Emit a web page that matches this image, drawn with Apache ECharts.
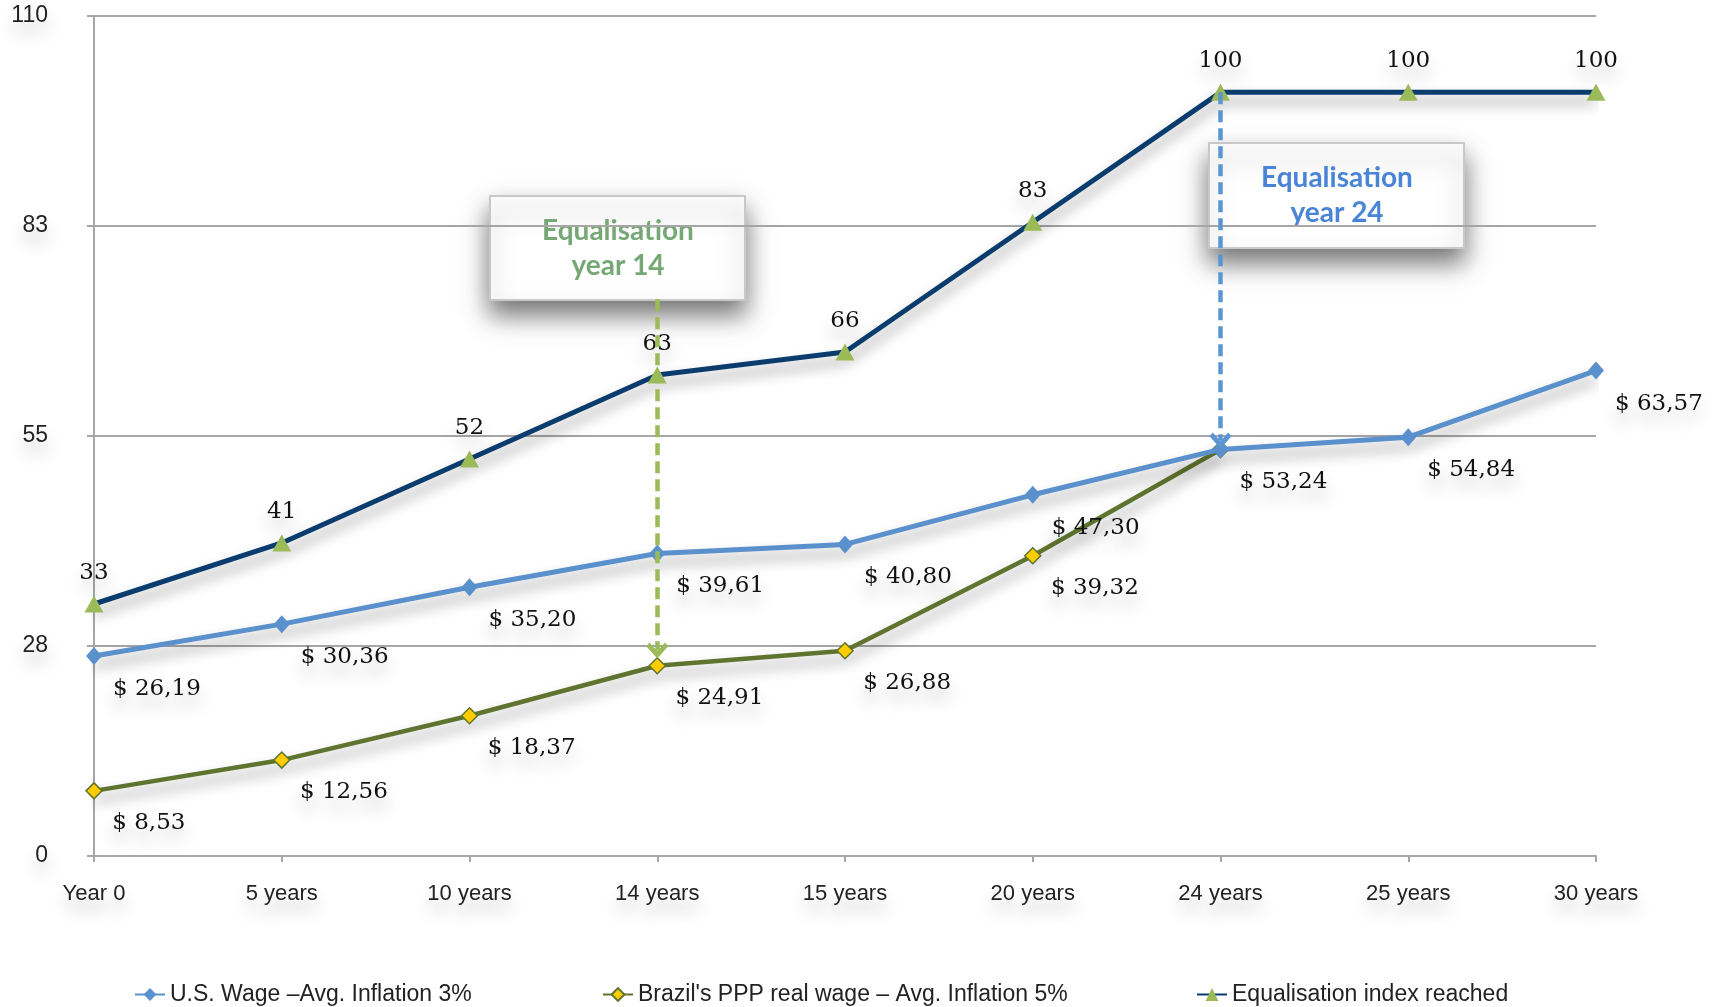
<!DOCTYPE html>
<html>
<head>
<meta charset="utf-8">
<script src="https://cdn.jsdelivr.net/npm/echarts@6/dist/echarts.min.js"></script>
<style>
  html, body { margin: 0; padding: 0; background: #fff; }
  #main { width: 1723px; height: 1007px; }
</style>
</head>
<body>
<div id="main"></div>
<script>
var categories = ['Year 0', '5 years', '10 years', '14 years', '15 years', '20 years', '24 years', '25 years', '30 years'];
var usWage = [26.19, 30.36, 35.20, 39.61, 40.80, 47.30, 53.24, 54.84, 63.57];
var brazilWage = [8.53, 12.56, 18.37, 24.91, 26.88, 39.32, 53.24, '-', '-'];
var equalIndex = [33, 41, 52, 63, 66, 83, 100, 100, 100];

var labelFont = 'DejaVu Serif';
var axisFont = '"Liberation Sans", Arial, sans-serif';
var chevron = 'path://M0,10 L10,0 L20,10 L17,13 L10,6 L3,13 Z';

function money(v) {
  return '$ ' + Number(v).toFixed(2).replace('.', ',');
}

var txtShadow = {
  textShadowColor: 'rgba(0,0,0,0.25)',
  textShadowBlur: 16,
  textShadowOffsetY: 12
};
var lineShadow = {
  shadowColor: 'rgba(0,0,0,0.4)',
  shadowBlur: 14,
  shadowOffsetY: 9
};

var myChart = echarts.init(document.getElementById('main'));

function legendItem(name, left) {
  return {
    data: [name],
    left: left,
    top: 978,
    itemWidth: 30,
    itemHeight: 16,
    itemGap: 0,
    selectedMode: false,
    textStyle: { fontFamily: axisFont, fontSize: 23, color: '#222' }
  };
}

var option = {
  animation: false,
  backgroundColor: '#fff',
  grid: { left: 94, right: 127, top: 16, bottom: 151 },
  legend: [
    legendItem('U.S. Wage –Avg. Inflation 3%', 129),
    legendItem("Brazil's PPP real wage – Avg. Inflation 5%", 597),
    legendItem('Equalisation index reached', 1191)
  ],
  xAxis: {
    type: 'category',
    boundaryGap: false,
    data: categories,
    axisLine: { lineStyle: { color: '#a6a6a6', width: 2 } },
    axisTick: { show: true, length: 6, lineStyle: { color: '#a6a6a6', width: 2 } },
    axisLabel: Object.assign({
      margin: 27,
      fontFamily: axisFont,
      fontSize: 22,
      color: '#222'
    }, txtShadow)
  },
  yAxis: {
    type: 'value',
    min: 0,
    max: 110,
    interval: 27.5,
    axisLine: { show: true, lineStyle: { color: '#a6a6a6', width: 2 } },
    axisTick: { show: true, length: 7, lineStyle: { color: '#a6a6a6', width: 2 } },
    splitLine: { lineStyle: { color: '#a6a6a6', width: 2 } },
    axisLabel: Object.assign({
      margin: 46,
      fontFamily: axisFont,
      fontSize: 23,
      color: '#222',
      formatter: function (v) { return Math.round(v); }
    }, txtShadow)
  },
  series: [
    {
      name: 'U.S. Wage –Avg. Inflation 3%',
      type: 'line',
      z: 3,
      data: usWage,
      symbol: 'diamond',
      symbolSize: [16, 18],
      color: '#5a90cc',
      lineStyle: Object.assign({ width: 5, color: '#5a90cc' }, lineShadow),
      itemStyle: { color: '#5a90cc' },
      label: Object.assign({
        show: true,
        position: [27, 42],
        align: 'left',
        verticalAlign: 'middle',
        fontFamily: labelFont,
        fontSize: 23,
        color: '#111',
        formatter: function (p) { return money(p.value); }
      }, txtShadow)
    },
    {
      name: "Brazil's PPP real wage – Avg. Inflation 5%",
      type: 'line',
      z: 2,
      data: brazilWage,
      symbol: 'diamond',
      symbolSize: [16, 16],
      color: '#5f742f',
      lineStyle: Object.assign({ width: 4.5, color: '#5f742f' }, lineShadow),
      itemStyle: { color: '#ffcc00', borderColor: '#5f742f', borderWidth: 1.5 },
      label: Object.assign({
        show: true,
        position: [27, 41],
        align: 'left',
        verticalAlign: 'middle',
        fontFamily: labelFont,
        fontSize: 23,
        color: '#111',
        formatter: function (p) { return p.dataIndex === 6 ? '' : money(p.value); }
      }, txtShadow),
      markLine: {
        silent: true,
        symbol: ['none', chevron],
        symbolSize: [22, 16],
        label: { show: false },
        lineStyle: { type: [12, 6], width: 4.5, color: '#9bbb59', shadowBlur: 0 },
        data: [
          [{ coord: ['14 years', 72.9] }, { coord: ['14 years', 26.9] }]
        ]
      }
    },
    {
      name: 'Equalisation index reached',
      type: 'line',
      z: 4,
      data: equalIndex,
      symbol: 'triangle',
      symbolSize: [19, 17],
      color: '#0a3d6e',
      lineStyle: Object.assign({ width: 5, color: '#0a3d6e' }, lineShadow),
      itemStyle: { color: '#9bbb59' },
      label: Object.assign({
        show: true,
        position: 'top',
        distance: 11,
        fontFamily: labelFont,
        fontSize: 23,
        color: '#111'
      }, txtShadow),
      markLine: {
        silent: true,
        symbol: ['none', chevron],
        symbolSize: [22, 16],
        label: { show: false },
        lineStyle: { type: [12, 6], width: 4.5, color: '#5b96d2', shadowBlur: 0 },
        data: [
          [{ coord: ['24 years', 100] }, { coord: ['24 years', 54.4] }]
        ]
      }
    }
  ],
  graphic: [
    {
      type: 'group',
      left: 489,
      top: 195,
      z: 100,
      children: [
        {
          type: 'rect',
          shape: { x: 0, y: 0, width: 255, height: 104 },
          style: {
            fill: '#fff', stroke: '#c8c8c8', lineWidth: 2,
            shadowColor: 'rgba(0,0,0,0.55)', shadowBlur: 24, shadowOffsetY: 14
          }
        },
        {
          type: 'text',
          x: 128, y: 52,
          style: {
            text: 'Equalisation\nyear 14',
            align: 'center', verticalAlign: 'middle',
            fontFamily: 'Lato', fontWeight: 'bold', fontSize: 28, lineHeight: 35,
            fill: '#76a875'
          }
        }
      ]
    },
    {
      type: 'group',
      left: 1208,
      top: 142,
      z: 100,
      children: [
        {
          type: 'rect',
          shape: { x: 0, y: 0, width: 255, height: 105 },
          style: {
            fill: '#fff', stroke: '#c8c8c8', lineWidth: 2,
            shadowColor: 'rgba(0,0,0,0.55)', shadowBlur: 24, shadowOffsetY: 14
          }
        },
        {
          type: 'text',
          x: 128, y: 52,
          style: {
            text: 'Equalisation\nyear 24',
            align: 'center', verticalAlign: 'middle',
            fontFamily: 'Lato', fontWeight: 'bold', fontSize: 28, lineHeight: 35,
            fill: '#4a84d6'
          }
        }
      ]
    }
  ]
};

myChart.setOption(option);
window.addEventListener('resize', function () {
  myChart.resize();
});
</script>
</body>
</html>
